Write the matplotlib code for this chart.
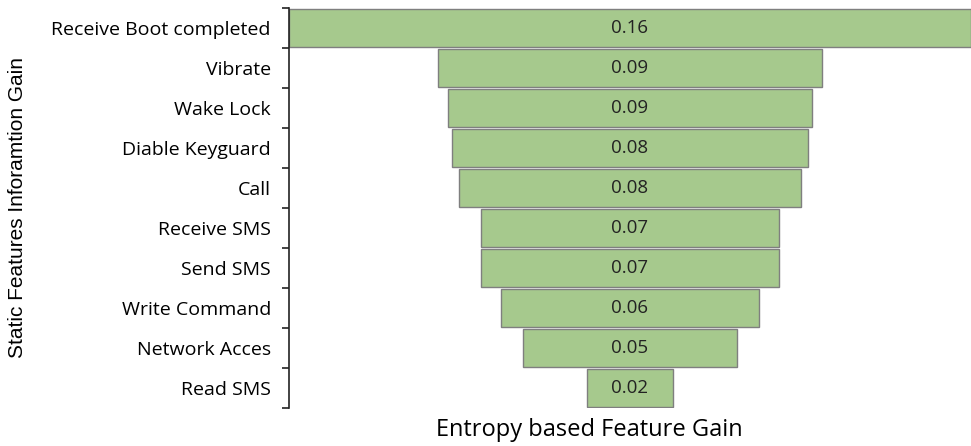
import matplotlib.pyplot as plt
from matplotlib.ticker import FixedLocator

# feature names, top to bottom
features = ['Receive Boot completed', 'Vibrate', 'Wake Lock', 'Diable Keyguard', 'Call',
            'Receive SMS', 'Send SMS', 'Write Command', 'Network Acces', 'Read SMS']
# information gain per feature
gain = [0.160, 0.0903, 0.0854, 0.0833, 0.0802, 0.0701, 0.0701, 0.0603, 0.0502, 0.0202]

bar_color = '#A6C98D'
edge_color = '#7F7F7F'

fig = plt.figure(figsize=(9.71, 4.46), dpi=100)
ax = fig.add_axes([289 / 971, 1 - 408 / 446, 1 - 289 / 971, 400 / 446])

pos = list(range(len(features)))
lefts = [-g / 2 for g in gain]
ax.barh(pos, gain, left=lefts, height=0.95, color=bar_color,
        edgecolor=edge_color, linewidth=1.0, clip_on=True)

for p, g in zip(pos, gain):
    ax.text(0, p, f'{g:.2f}', ha='center', va='center', fontsize=13.5,
            family='Open Sans', color='#222222')

ax.set_xlim(-0.08, 0.08)
ax.set_ylim(len(features) - 0.5, -0.5)

ax.set_yticks(pos)
ax.set_yticklabels(features, family='Open Sans', fontsize=14)
ax.yaxis.set_minor_locator(FixedLocator([i - 0.5 for i in range(len(features) + 1)]))
ax.tick_params(axis='y', which='major', length=0, pad=13)
ax.tick_params(axis='y', which='minor', length=5, width=1.2, color='#222222')
ax.set_xticks([])

for s in ['top', 'right', 'bottom']:
    ax.spines[s].set_visible(False)
ax.spines['left'].set_linewidth(1.2)
ax.spines['left'].set_color('#222222')

fig.text(589 / 971, 1 - 430 / 446, 'Entropy based Feature Gain', ha='center', va='center',
         fontsize=17, family='Open Sans')
fig.text(18 / 971, 1 - 207 / 446, 'Static Features Inforamtion Gain', ha='center', va='center',
         rotation=90, fontsize=15, family=['Liberation Sans Narrow', 'Liberation Sans'])

fig.savefig('out.png', dpi=100)
